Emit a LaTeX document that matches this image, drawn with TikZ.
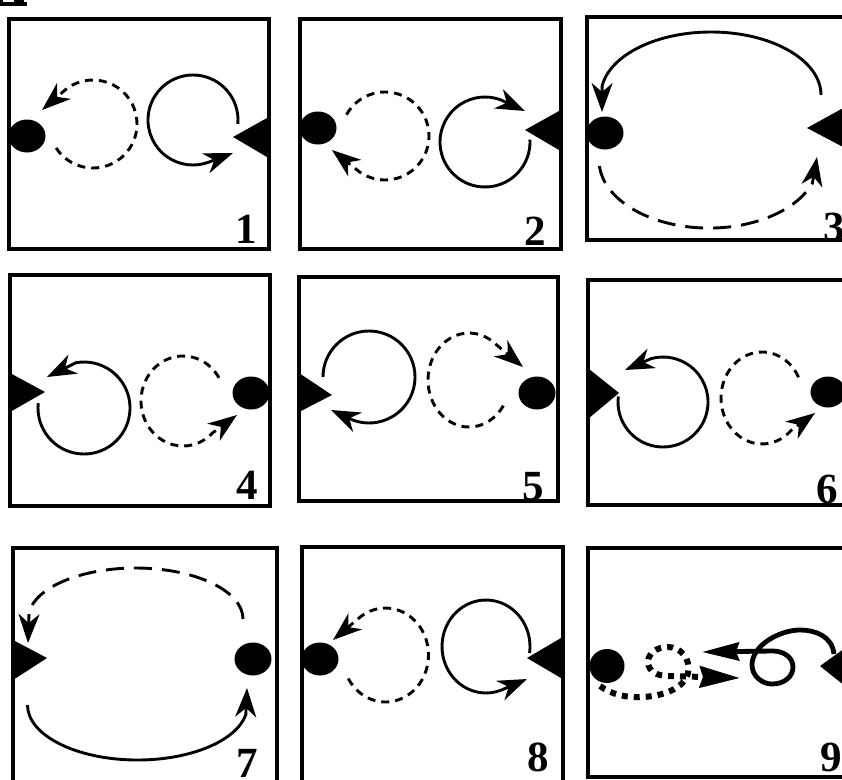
\documentclass[tikz,border=0pt]{standalone}
\usepackage{fontspec}
\setmainfont{Liberation Serif}
\usetikzlibrary{arrows.meta,shapes.geometric}
\begin{document}
\begin{tikzpicture}[x=1pt,y=-1pt,
  panel/.style={line width=3.2pt},
  loopend/.style={-{Stealth[length=29pt,width=21pt,inset=9pt]}},
  solidloop/.style={line width=2.9pt,loopend},
  dashloop/.style={line width=2.9pt,dash pattern=on 8pt off 6pt,loopend},
  longdash/.style={line width=2.9pt,dash pattern=on 18pt off 10pt,loopend},
  blackdot/.style={ellipse,fill=black,inner sep=0pt,minimum width=37pt,minimum height=33pt},
  lbl/.style={font=\fontsize{43}{43}\selectfont\bfseries,inner sep=0pt,anchor=south}]
\useasboundingbox (0,0) rectangle (842,779);
\clip (0,0) rectangle (842,779);
% fragment at top left
\fill (0,0) rectangle (3,2);
\fill (14,0) rectangle (24,2);
\fill (0,2) rectangle (27,6);

% ---------- panel 1
\draw[panel] (9,19) rectangle (269,249);
\node[blackdot] (d1) at (27,136) {};
\fill (233,137) -- (267,118) -- (267,157) -- cycle;
\draw[dashloop] (93,124) ++(147:44) arc[start angle=147,end angle=-130,radius=44] -- (42,110);
\draw[solidloop] (193,120) ++(5:45) arc[start angle=5,end angle=-290,radius=45] -- (233,153);
\node[lbl] (l1) at (246,244) {1};

% ---------- panel 2
\draw[panel] (300,19) rectangle (561,249);
\node[blackdot] (d2) at (318,128) {};
\fill (525,130) -- (559,111) -- (559,150) -- cycle;
\draw[dashloop] (385,136) ++(-151:44) arc[start angle=-151,end angle=130,radius=44] -- (332,150);
\draw[solidloop] (485,142) ++(-3:45) arc[start angle=-3,end angle=290,radius=45] -- (525,111);
\node[lbl] (l2) at (535,246) {2};

% ---------- panel 3
\draw[panel] (587,17) rectangle (860,240);
\node[blackdot] (d3) at (605,133) {};
\fill (807,128) -- (845,107) -- (845,148) -- cycle;
\draw[solidloop] (821,95) arc[start angle=0,end angle=-172,x radius=110,y radius=63] -- (602,112);
\draw[longdash] (599.4,166) arc[start angle=175,end angle=20,x radius=110,y radius=68] -- (817,157);
\node[lbl] (l3) at (834,242) {3};

% ---------- panel 4
\draw[panel] (10,275) rectangle (270,506);
\fill (10,373) -- (45,392) -- (10,412) -- cycle;
\draw[solidloop] (84,408) ++(186:46) arc[start angle=186,end angle=-100,radius=46] -- (47,377);
\draw[dashloop] (183,401) ++(-31:42 and 45) arc[start angle=-31,end angle=-315,x radius=42,y radius=45] -- (237,415);
\node[blackdot] (d4) at (251,393) {};
\node[lbl] (l4) at (247,500) {4};

% ---------- panel 5
\draw[panel] (299,277) rectangle (558,501);
\fill (299,373) -- (332,395) -- (299,412) -- cycle;
\draw[solidloop] (369,377) ++(180:46) arc[start angle=180,end angle=470,radius=46] -- (331,410);
\draw[dashloop] (469,380) ++(33:41 and 47) arc[start angle=33,end angle=305,x radius=41,y radius=47] -- (523,367);
\node[blackdot] (d5) at (537,393) {};
\node[lbl] (l5) at (533,501) {5};

% ---------- panel 6
\draw[panel] (588,280) rectangle (860,505);
\fill (589,369) -- (619,393) -- (589,418) -- cycle;
\draw[solidloop] (663,402) ++(187:45) arc[start angle=187,end angle=-105,radius=45] -- (625,370);
\draw[dashloop] (762,398) ++(-27:41 and 46) arc[start angle=-27,end angle=-315,x radius=41,y radius=46] -- (815,413);
\node[blackdot,minimum width=35pt,minimum height=31pt] (d6) at (828,392) {};
\node[lbl] (l6) at (827,504) {6};

% ---------- panel 7
\draw[panel] (13,548) rectangle (277,800);
\fill (13,640) -- (47,658) -- (13,680) -- cycle;
\draw[longdash] (243,619) arc[start angle=0,end angle=-172,x radius=107.5,y radius=51] -- (28,643);
\draw[solidloop] (27.5,705) arc[start angle=180,end angle=10,x radius=110,y radius=55] -- (247,688);
\node[blackdot] (d7) at (253,659) {};
\node[lbl] (l7) at (247,778) {7};

% ---------- panel 8
\draw[panel] (302,547) rectangle (563,800);
\node[blackdot] (d8) at (320,659) {};
\draw[dashloop] (385.5,655) ++(150:43 and 47) arc[start angle=150,end angle=-130,x radius=43,y radius=47] -- (333,640);
\draw[solidloop] (486,646.5) ++(8:44 and 46.5) arc[start angle=8,end angle=-290,x radius=44,y radius=46.5] -- (527,679);
\fill (527,658) -- (561,638) -- (561,678) -- cycle;
\node[lbl] (l8) at (538,772) {8};

% ---------- panel 9
\draw[panel] (588,548) rectangle (860,777);
\node[blackdot,minimum width=35pt,minimum height=34pt] (d9) at (607,666) {};
\fill (820,666) -- (845,648) -- (845,686) -- cycle;
\draw[line width=4.8pt,-{Stealth[length=37pt,width=18pt,inset=3pt]}]
  (834,654) .. controls (832,636) and (815,630) .. (800,630)
  .. controls (780,630) and (752,645) .. (752,665)
  .. controls (752,676) and (762,684) .. (772,684)
  .. controls (785,684) and (793,676) .. (793,667)
  .. controls (793,657) and (783,651) .. (773,651)
  -- (702,652);
\draw[line width=6pt,dash pattern=on 6pt off 6pt,-{Stealth[length=40pt,width=21pt,inset=3pt]}]
  (600,686) .. controls (612,695) and (628,698) .. (643,697)
  .. controls (662,696) and (684,689) .. (688,673)
  .. controls (691,658) and (680,647) .. (668,647)
  .. controls (656,647) and (648,654) .. (648,662)
  .. controls (648,671) and (657,676) .. (668,676)
  -- (740,678);
\node[lbl] (l9) at (831,772) {9};
\end{tikzpicture}
\end{document}
